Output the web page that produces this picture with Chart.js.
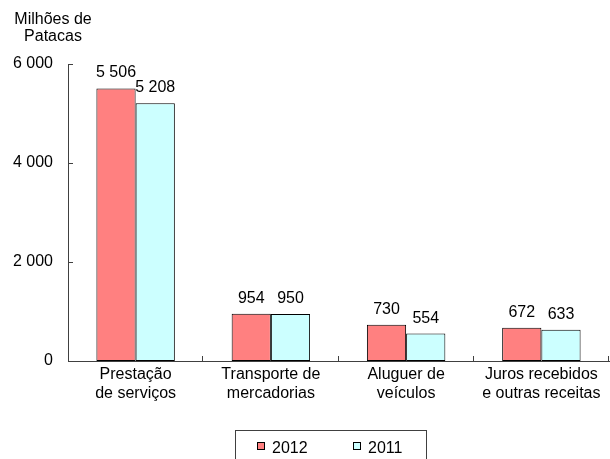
<!DOCTYPE html>
<html>
<head>
<meta charset="utf-8">
<script src="https://cdn.jsdelivr.net/npm/chart.js@4"></script>
<style>
  html, body { margin: 0; padding: 0; background: #fff; }
  #wrap { width: 610px; height: 459px; position: relative; }
</style>
</head>
<body>
<div id="wrap"><canvas id="grafico"></canvas></div>
<script>
const categorias = [
    ['Prestação', 'de serviços'],
    ['Transporte de', 'mercadorias'],
    ['Aluguer de', 'veículos'],
    ['Juros recebidos', 'e outras receitas']
];
const valores2012 = [5506, 954, 730, 672];
const valores2011 = [5208, 950, 554, 633];
const ticksY = [0, 2000, 4000, 6000];
const tituloY = ['Milhões de', 'Patacas'];

const FONTE = '"Liberation Sans", Arial, sans-serif';

function formatar(v) {
    return String(v).replace(/\B(?=(\d{3})+(?!\d))/g, ' ');
}

// marcas dos eixos viradas para dentro + titulo do eixo Y
const extrasEixos = {
    id: 'extrasEixos',
    afterDraw(chart) {
        const ctx = chart.ctx;
        const area = chart.chartArea;
        const x = chart.scales.x;
        const y = chart.scales.y;
        ctx.save();
        ctx.strokeStyle = '#404040';
        ctx.lineWidth = 1;
        ctx.beginPath();
        ticksY.forEach(t => {
            const py = Math.round(y.getPixelForValue(t)) + 0.5;
            ctx.moveTo(area.left, py);
            ctx.lineTo(area.left + 5, py);
        });
        for (let i = 1; i <= categorias.length; i++) {
            let px = i < categorias.length
                ? (x.getPixelForValue(i - 1) + x.getPixelForValue(i)) / 2
                : area.right;
            px = Math.round(px) - 0.5;
            ctx.moveTo(px, area.bottom);
            ctx.lineTo(px, area.bottom - 5);
        }
        ctx.stroke();

        ctx.fillStyle = '#000';
        ctx.font = '16px ' + FONTE;
        ctx.textAlign = 'center';
        ctx.textBaseline = 'alphabetic';
        ctx.fillText(tituloY[0], 53, 24);
        ctx.fillText(tituloY[1], 53, 41);
        ctx.restore();
    }
};

// valores por cima das barras
const rotulos = {
    id: 'rotulos',
    afterDatasetsDraw(chart) {
        const ctx = chart.ctx;
        ctx.save();
        ctx.fillStyle = '#000';
        ctx.font = '16px ' + FONTE;
        ctx.textAlign = 'center';
        ctx.textBaseline = 'alphabetic';
        chart.data.datasets.forEach((ds, i) => {
            chart.getDatasetMeta(i).data.forEach((bar, j) => {
                ctx.fillText(formatar(ds.data[j]), bar.x, bar.y - 11);
            });
        });
        ctx.restore();
    }
};

// legenda com moldura, desenhada a mao
const legendaCaixa = {
    id: 'legendaCaixa',
    afterDraw(chart) {
        const ctx = chart.ctx;
        ctx.save();
        ctx.strokeStyle = '#404040';
        ctx.lineWidth = 1;
        ctx.strokeRect(235.5, 430.5, 191, 40);
        const posicoes = [257, 353];
        ctx.font = '16px ' + FONTE;
        ctx.textBaseline = 'alphabetic';
        ctx.textAlign = 'left';
        chart.data.datasets.forEach((ds, i) => {
            const px = posicoes[i];
            ctx.fillStyle = ds.backgroundColor;
            ctx.fillRect(px, 442, 8, 8);
            ctx.strokeStyle = '#000';
            ctx.strokeRect(px + 0.5, 442.5, 7, 7);
            ctx.fillStyle = '#000';
            ctx.fillText(ds.label, px + 15, 453);
        });
        ctx.restore();
    }
};

const grafico = new Chart(document.getElementById('grafico'), {
    type: 'bar',
    data: {
        labels: categorias,
        datasets: [
            {
                label: '2012',
                data: valores2012,
                backgroundColor: '#FF8080',
                borderColor: '#000',
                borderWidth: 1,
                borderSkipped: false
            },
            {
                label: '2011',
                data: valores2011,
                backgroundColor: '#CCFFFF',
                borderColor: '#000',
                borderWidth: 1,
                borderSkipped: false
            }
        ]
    },
    options: {
        responsive: true,
        maintainAspectRatio: false,
        animation: false,
        devicePixelRatio: 1,
        layout: { padding: { left: 0, right: 1, top: 64, bottom: 0 } },
        datasets: {
            bar: { categoryPercentage: 0.58, barPercentage: 1 }
        },
        plugins: {
            legend: { display: false },
            tooltip: { enabled: false }
        },
        scales: {
            x: {
                grid: { display: false, drawTicks: false },
                border: { display: true, color: '#404040', width: 1 },
                ticks: {
                    color: '#000',
                    font: { family: FONTE, size: 16 },
                    padding: 4,
                    maxRotation: 0,
                    autoSkip: false
                },
                afterFit(scale) { scale.height = 98; }
            },
            y: {
                min: 0,
                max: 6000,
                grid: { display: false, drawTicks: false },
                border: { display: true, color: '#404040', width: 1 },
                ticks: {
                    stepSize: 2000,
                    color: '#000',
                    font: { family: FONTE, size: 16 },
                    padding: 15,
                    callback: v => formatar(v)
                },
                afterFit(scale) { scale.width = 68; }
            }
        }
    },
    plugins: [extrasEixos, rotulos, legendaCaixa]
});
</script>
</body>
</html>
